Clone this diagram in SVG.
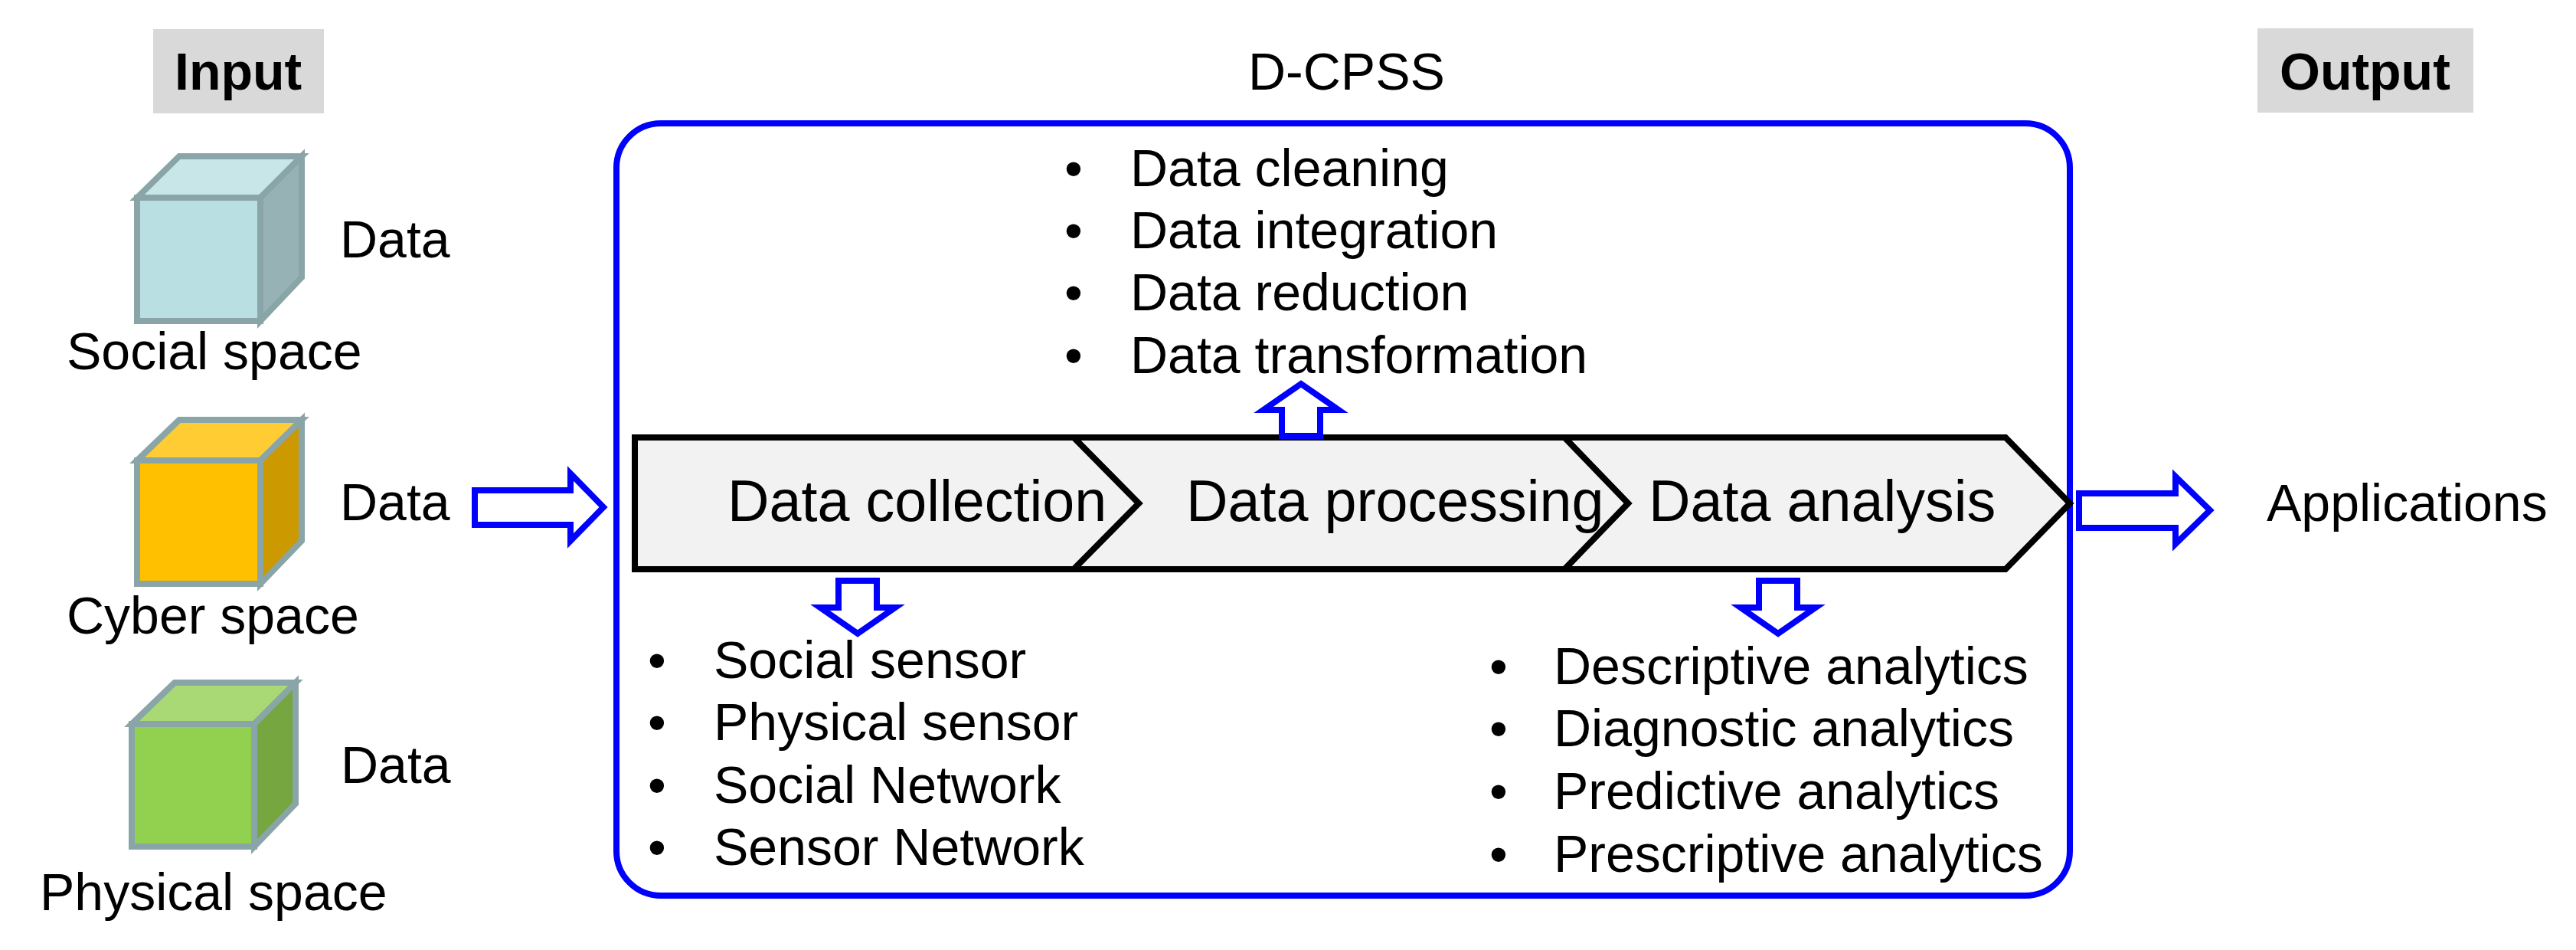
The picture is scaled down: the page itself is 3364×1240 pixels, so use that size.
<svg xmlns="http://www.w3.org/2000/svg" width="3364" height="1240" viewBox="0 0 3364 1240">
<style>
text{font-family:"Liberation Sans",Arial,sans-serif;font-size:68px;fill:#000}
.b{font-weight:bold}
.s{font-size:75.500px}
.hdr{fill:#d9d9d9}
.edge{stroke:#8aa5a8;stroke-width:8;stroke-linejoin:miter}
.arrow{fill:#fff;stroke:#00f;stroke-width:8;stroke-linejoin:miter;stroke-miterlimit:10}
.chev{fill:#f2f2f2;stroke:#000;stroke-width:8;stroke-linejoin:miter}
.box{fill:#fff;stroke:#00f;stroke-width:8}
</style>
<g id="input-label"><rect class="hdr" x="200" y="38" width="223" height="110"/><text class="b" x="228" y="117">Input</text></g>
<g id="output-label"><rect class="hdr" x="2948" y="37" width="282" height="110"/><text class="b" x="2977" y="117">Output</text></g>
<g id="social-space">
<path class="edge" fill="#c8e6e8" d="M179,258L234,204H394L340,258Z"/>
<path class="edge" fill="#97b2b5" d="M340,258L394,204V362L340,419Z"/>
<rect class="edge" fill="#b9dfe2" x="179" y="258" width="161" height="161"/>
<text x="444" y="336">Data</text><text x="87" y="482">Social space</text>
</g>
<g id="cyber-space">
<path class="edge" fill="#fc3" d="M179,601L234,548H394L340,601Z"/>
<path class="edge" fill="#c90" d="M340,601L394,548V706L340,762Z"/>
<rect class="edge" fill="#ffc000" x="179" y="601" width="161" height="161"/>
<text x="444" y="679">Data</text><text x="87" y="827">Cyber space</text>
</g>
<g id="physical-space">
<path class="edge" fill="#a8d975" d="M172,945L228,891H386L332,945Z"/>
<path class="edge" fill="#75a640" d="M332,945L386,891V1049L332,1105Z"/>
<rect class="edge" fill="#92d050" x="172" y="945" width="160" height="160"/>
<text x="445" y="1022">Data</text><text x="52" y="1188">Physical space</text>
</g>
<g id="d-cpss">
<rect class="box" x="805" y="161" width="1898" height="1008" rx="58"/>
<text x="1630" y="117">D-CPSS</text>
</g>
<g id="data-analysis"><path class="chev" d="M2043,571H2619L2703,657L2619,743H2043L2126,657Z"/><text class="s" x="2153" y="680">Data analysis</text></g>
<g id="data-processing"><path class="chev" d="M1402,571H2043L2126,657L2043,743H1402L1487,657Z"/><text class="s" x="1549" y="680">Data processing</text></g>
<g id="data-collection"><path class="chev" d="M829,571H1402L1487,657L1402,743H829Z"/><text class="s" x="950" y="680">Data collection</text></g>
<g id="connectors">
<path class="arrow" d="M620,640H745V618L788,662L745,706V685H620Z"/>
<path class="arrow" d="M2715,644H2841V622L2886,666L2841,710V689H2715Z"/>
<path class="arrow" d="M1674,569V535H1650L1699,501L1748,535H1724V569Z"/>
<path class="arrow" d="M1095,758V793H1071L1120,827L1169,793H1145V758Z"/>
<path class="arrow" d="M2297,758V793H2273L2322,827L2371,793H2347V758Z"/>
</g>
<g id="cleaning-list">
<text x="1390" y="243">•</text><text x="1476" y="243">Data cleaning</text>
<text x="1390" y="324">•</text><text x="1476" y="324">Data integration</text>
<text x="1390" y="405">•</text><text x="1476" y="405">Data reduction</text>
<text x="1390" y="487">•</text><text x="1476" y="487">Data transformation</text>
</g>
<g id="collection-list">
<text x="846" y="885">•</text><text x="932" y="885">Social sensor</text>
<text x="846" y="966">•</text><text x="932" y="966">Physical sensor</text>
<text x="846" y="1048">•</text><text x="932" y="1048">Social Network</text>
<text x="846" y="1129">•</text><text x="932" y="1129">Sensor Network</text>
</g>
<g id="analysis-list">
<text x="1945" y="893">•</text><text x="2029" y="893">Descriptive analytics</text>
<text x="1945" y="974">•</text><text x="2029" y="974">Diagnostic analytics</text>
<text x="1945" y="1056">•</text><text x="2029" y="1056">Predictive analytics</text>
<text x="1945" y="1138">•</text><text x="2029" y="1138">Prescriptive analytics</text>
</g>
<g id="applications"><text x="2960" y="680">Applications</text></g>
</svg>
